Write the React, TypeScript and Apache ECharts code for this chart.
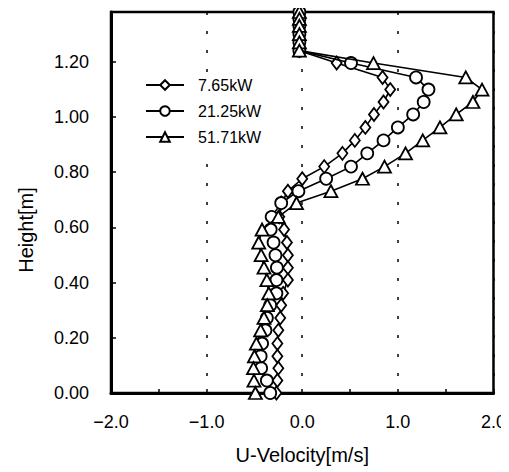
import React, { useEffect, useRef } from "react";
import * as echarts from "echarts";

// Measurement heights [m] (shared by the three series)
const heights: number[] = [
  1.38, 1.355, 1.33, 1.3, 1.27, 1.24, 1.195, 1.143, 1.099, 1.054, 1.009, 0.962,
  0.915, 0.868, 0.82, 0.776, 0.731, 0.688, 0.638, 0.592, 0.545, 0.499, 0.454,
  0.409, 0.361, 0.318, 0.272, 0.227, 0.179, 0.133, 0.09, 0.045, 0.0,
];

// U-velocity [m/s] for each heat release rate
const u765: number[] = [
  -0.03, -0.03, -0.03, -0.03, -0.03, -0.03, 0.36, 0.84, 0.92, 0.85, 0.75, 0.66,
  0.55, 0.42, 0.23, 0.0, -0.15, -0.22, -0.24, -0.19, -0.16, -0.15, -0.15,
  -0.15, -0.2, -0.22, -0.23, -0.25, -0.26, -0.26, -0.25, -0.26, -0.27,
];
const u2125: number[] = [
  -0.03, -0.03, -0.03, -0.03, -0.03, -0.03, 0.51, 1.19, 1.32, 1.27, 1.16, 1.0,
  0.85, 0.68, 0.51, 0.25, -0.04, -0.22, -0.32, -0.33, -0.3, -0.28, -0.265,
  -0.27, -0.27, -0.335, -0.37, -0.385, -0.42, -0.435, -0.43, -0.37, -0.335,
];
const u5171: number[] = [
  -0.03, -0.03, -0.03, -0.03, -0.03, -0.03, 0.745, 1.71, 1.88, 1.785, 1.61,
  1.44, 1.26, 1.08, 0.86, 0.63, 0.3, -0.06, -0.25, -0.42, -0.455, -0.43, -0.4,
  -0.37, -0.35, -0.365, -0.4, -0.435, -0.48, -0.5, -0.51, -0.505, -0.49,
];

const seriesNames: string[] = ["7.65kW", "21.25kW", "51.71kW"];
const seriesValues: number[][] = [u765, u2125, u5171];
const seriesSymbols: string[] = ["diamond", "circle", "triangle"];
const symbolSizes: (number | number[])[] = [[10, 13], 12, [13, 12]];

const FONT = "'Liberation Sans', Arial, sans-serif";

export default function App() {
  const ref = useRef<HTMLDivElement>(null);
  useEffect(() => {
    if (!ref.current) return;
    const chart = echarts.init(ref.current, undefined, { renderer: "svg" });
    const series = seriesNames.map((name, i) => ({
      name,
      type: "line",
      data: seriesValues[i].map((u, k) => [u, heights[k]]),
      symbol: seriesSymbols[i],
      symbolSize: symbolSizes[i],
      showAllSymbol: true,
      lineStyle: { color: "#000", width: 1.6 },
      itemStyle: { color: "#fff", borderColor: "#000", borderWidth: 1.8 },
      z: 3 + i,
    }));
    chart.setOption({
      animation: false,
      backgroundColor: "#fff",
      grid: {
        left: 111,
        right: 12,
        top: 12,
        bottom: 79,
        show: true,
        borderColor: "#000",
        borderWidth: 2.5,
      },
      legend: {
        orient: "vertical",
        left: 140,
        top: 72,
        padding: [5, 8, 5, 5],
        backgroundColor: "#fff",
        itemWidth: 38,
        itemHeight: 12,
        itemGap: 10,
        data: seriesNames,
        textStyle: {
          fontFamily: FONT,
          fontSize: 16,
          color: "#000",
          padding: [0, 0, 0, 9],
        },
      },
      xAxis: {
        type: "value",
        min: -2,
        max: 2,
        interval: 1,
        name: "U-Velocity[m/s]",
        nameLocation: "middle",
        nameGap: 52,
        nameTextStyle: { fontFamily: FONT, fontSize: 20, color: "#000" },
        axisLine: { show: true, onZero: false, lineStyle: { color: "#000", width: 3 } },
        axisTick: { show: true, inside: true, length: 4, lineStyle: { color: "#000", width: 1.5 } },
        minorTick: { show: true, splitNumber: 2, length: 4, lineStyle: { color: "#000", width: 1.5 } },
        axisLabel: {
          fontFamily: FONT,
          fontSize: 18,
          color: "#000",
          margin: 20,
          formatter: (v: number) => v.toFixed(1).replace("-", "\u2212"),
        },
        splitLine: {
          show: true,
          lineStyle: { color: "#000", width: 1.5, type: [3, 16] },
        },
      },
      yAxis: {
        type: "value",
        min: 0,
        max: 1.38,
        interval: 0.2,
        name: "Height[m]",
        nameLocation: "middle",
        nameGap: 75,
        nameTextStyle: {
          fontFamily: FONT,
          fontSize: 20,
          color: "#000",
          padding: [0, 55, 0, 0],
        },
        axisLine: { show: true, onZero: false, lineStyle: { color: "#000", width: 3 } },
        axisTick: { show: true, inside: true, length: 5, lineStyle: { color: "#000", width: 1.5 } },
        axisLabel: {
          fontFamily: FONT,
          fontSize: 18,
          color: "#000",
          margin: 22,
          showMaxLabel: false,
          formatter: (v: number) => v.toFixed(2),
        },
        splitLine: { show: false },
      },
      series,
    });
    return () => chart.dispose();
  }, []);
  return <div ref={ref} style={{ width: 509, height: 472, marginLeft: -8, marginTop: -8 }} />;
}
